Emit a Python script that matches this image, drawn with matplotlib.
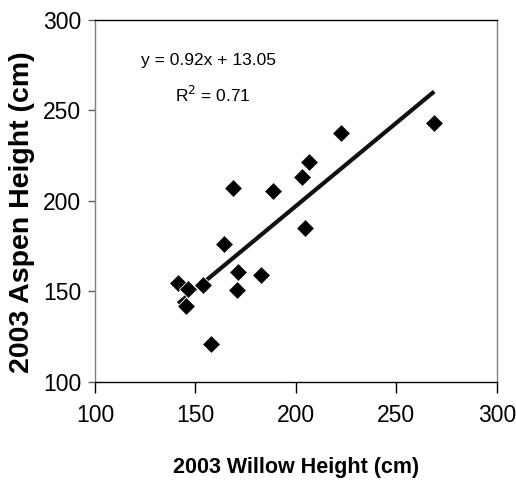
import matplotlib.pyplot as plt
import numpy as np

plt.rcParams["font.family"] = ["Liberation Sans", "DejaVu Sans"]

# willow vs aspen heights, 2003 (cm)
willow = [141.4, 146.4, 145.3, 153.9, 157.6, 164.3, 168.5, 171.3, 170.6,
          182.6, 188.4, 203.1, 206.5, 204.5, 222.4, 268.8]
aspen = [154.4, 151.1, 142.0, 153.3, 120.6, 176.2, 207.0, 160.3, 150.7,
         159.0, 205.4, 212.9, 221.2, 184.9, 237.5, 242.7]

# trendline from the chart
slope = 0.92
intercept = 13.05
r2 = 0.71

fig = plt.figure(figsize=(5.16, 4.83), dpi=100)
ax = fig.add_axes([0.184, 0.210, 0.779, 0.749])

xs = np.array([min(willow), max(willow)])
ax.plot(xs, slope * xs + intercept, color="#111111", lw=3, zorder=2,
        solid_capstyle="butt")
ax.plot(willow, aspen, "D", color="black", ms=9.5, mec="white", mew=0.6,
        zorder=3)

ax.set_xlim(100, 300)
ax.set_ylim(100, 300)
ax.set_xticks([100, 150, 200, 250, 300])
ax.set_yticks([100, 150, 200, 250, 300])

ax.spines["left"].set_color("#808080")
ax.spines["right"].set_color("#808080")
ax.spines["top"].set_color("black")
ax.spines["bottom"].set_color("black")
for s in ax.spines.values():
    s.set_linewidth(1.0)

ax.tick_params(axis="x", direction="out", length=8, width=1, pad=8,
               labelsize=16.5, colors="black")
ax.tick_params(axis="y", direction="out", length=5, width=1, pad=5,
               labelsize=16.5, color="#606060", labelcolor="black")

ax.set_xlabel("2003 Willow Height (cm)", fontsize=15.5, fontweight="bold",
              labelpad=22)
fig.text(22 / 516, 1 - 212 / 483, "2003 Aspen Height (cm)", rotation=90,
         fontsize=20.5, fontweight="bold", ha="center", va="center")

ax.text(0.115, 0.887, "y = %.2fx + %.2f" % (slope, intercept),
        transform=ax.transAxes, fontsize=12.5, ha="left", va="center")
ax.text(0.2, 0.792, "R$^2$ = %.2f" % r2, transform=ax.transAxes,
        fontsize=12.5, ha="left", va="center")

fig.savefig("out.png", dpi=100)
